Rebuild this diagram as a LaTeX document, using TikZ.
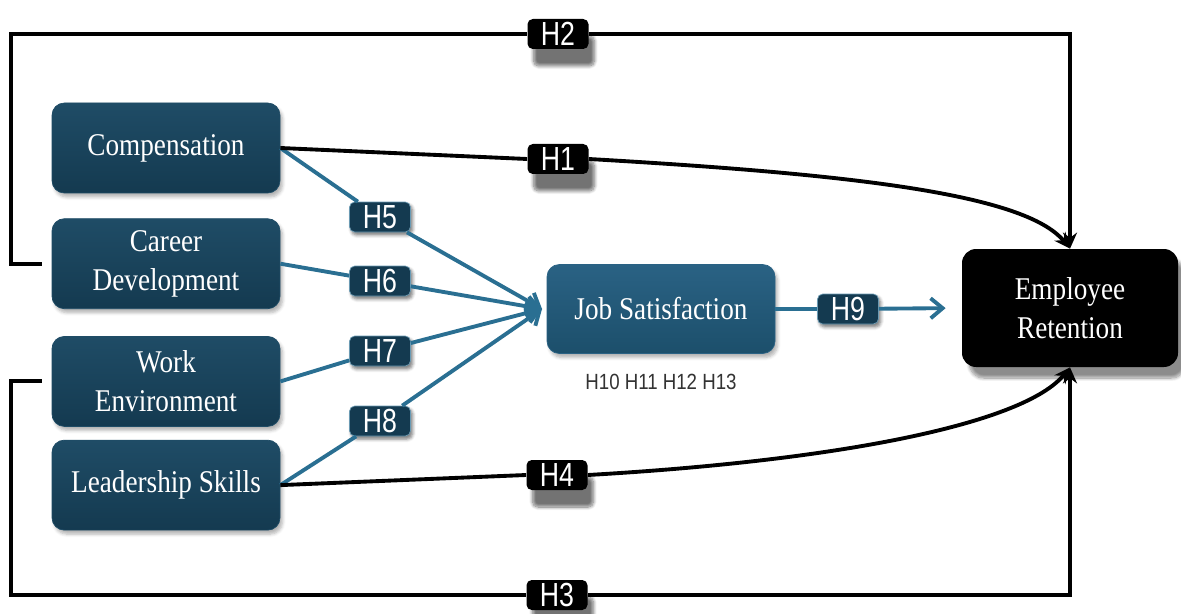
\documentclass[tikz,border=0pt]{standalone}
\usepackage{fontspec}
\setmainfont{Liberation Serif}
\newfontfamily\boxfont[FakeStretch=0.86]{Liberation Serif}
\newfontfamily\hfont[FakeStretch=0.85]{Liberation Sans}
\newfontfamily\hnarrow[FakeStretch=0.8]{Liberation Sans}
\usetikzlibrary{positioning}
\usetikzlibrary{shadows.blur}
\usetikzlibrary{arrows.meta}

\definecolor{boxblue}{HTML}{143A50}
\definecolor{boxtop}{HTML}{1F4C66}
\definecolor{jsblue}{HTML}{1C4F6B}
\definecolor{jstop}{HTML}{2A6284}
\definecolor{lineblue}{HTML}{2A6F92}

\begin{document}
\begin{tikzpicture}[
  factor/.style={top color=boxtop, bottom color=boxblue, draw=boxtop, rounded corners=7pt,
    minimum width=4.56cm, minimum height=1.8cm, text=white, align=center,
    font=\boxfont\fontsize{18}{22}\selectfont,
    blur shadow={shadow xshift=0.05cm, shadow yshift=-0.08cm, shadow blur steps=5, shadow opacity=30}},
  mediator/.style={factor, top color=jstop, bottom color=jsblue, draw=jstop, minimum height=1.78cm},
  outcome/.style={fill=black, rounded corners=8pt, minimum width=4.32cm, minimum height=2.36cm,
    text=white, align=center, font=\boxfont\fontsize{18}{22}\selectfont,
    blur shadow={shadow xshift=0.15cm, shadow yshift=-0.22cm, shadow blur steps=10, shadow opacity=45}},
  hyp/.style={fill=black, rounded corners=3pt, minimum width=1.22cm, minimum height=0.6cm, inner sep=0pt,
    text=white, font=\hnarrow\fontsize{19}{19}\selectfont,
    blur shadow={shadow xshift=0.12cm, shadow yshift=-0.34cm, shadow blur steps=10, shadow opacity=55}},
  mhyp/.style={hyp, fill=boxblue, draw=lineblue!70!white, line width=0.4pt,
    blur shadow={shadow xshift=0.04cm, shadow yshift=-0.06cm, shadow blur steps=4, shadow opacity=30}},
  link/.style={black, line width=2.2pt},
  blink/.style={lineblue, line width=2.2pt},
  >={Stealth[length=3.2mm,width=2.8mm]}
]
\useasboundingbox (0,0) rectangle (23.62,12.26);

% independent variables
\node (comp) [factor] at (3.32,9.30) {Compensation};
\node (career) [factor, below=0.5cm of comp] {Career\\Development};
\node (work) [factor, below=0.54cm of career] {Work\\Environment};
\node (lead) [factor, below=0.26cm of work] {Leadership Skills};

% mediator and dependent variable
\node (js) [mediator] at (13.22,6.08) {Job Satisfaction};
\node (med) [below=0.28cm of js, text=black!80, font=\hfont\fontsize{12.5}{13}\selectfont] {H10 H11 H12 H13};
\node (er) [outcome] at (21.40,6.10) {Employee\\Retention};

% hypotheses
\node (h1) [hyp] at (11.16,9.08) {H1};
\node (h2) [hyp] at (11.16,11.58) {H2};
\node (h3) [hyp] at (11.14,0.36) {H3};
\node (h4) [hyp] at (11.14,2.76) {H4};
\node (h5) [mhyp] at (7.60,7.92) {H5};
\node (h6) [mhyp] at (7.60,6.64) {H6};
\node (h7) [mhyp] at (7.60,5.24) {H7};
\node (h8) [mhyp] at (7.60,3.84) {H8};
\node (h9) [mhyp] at (16.96,6.08) {H9};

\coordinate (conv) at (10.84,6.08);
\coordinate (rail) at (0.22,0);
\coordinate [left=0.2cm of career] (cdstub);
\coordinate [left=0.2cm of work] (westub);

% paths to job satisfaction
\draw [blink] (comp.east) -- (h5);
\draw [blink, -{Straight Barb[length=2.4mm,width=4mm]}] (h5) -- (conv);
\draw [blink] (career.east) -- (h6);
\draw [blink, -{Straight Barb[length=2.4mm,width=4mm]}] (h6) -- (conv);
\draw [blink] (work.east) -- (h7);
\draw [blink, -{Straight Barb[length=2.4mm,width=4mm]}] (h7) -- (conv);
\draw [blink] (lead.east) -- (h8);
\draw [blink, -{Straight Barb[length=2.4mm,width=4mm]}] (h8) -- (conv);
\draw [blink] (js.east) -- (h9);
\draw [blink, -{Straight Barb[length=2.4mm,width=4mm]}, shorten >=0.32cm] (h9) -- (er.west);

% direct paths to retention
\draw [link] (comp.east) -- (h1.west);
\draw [link, ->] (h1.east) .. controls +(5.2,-0.3) and +(-0.9,1.1) .. (er.north);
\draw [link] (cdstub) -- (rail |- cdstub) |- (h2.west);
\draw [link, ->] (h2.east) -| (er.north);
\draw [link] (westub) -- (rail |- westub) |- (h3.west);
\draw [link, ->] (h3.east) -| (er.south);
\draw [link] (lead.east) -- (h4.west);
\draw [link, ->] (h4.east) .. controls +(5.2,0.3) and +(-0.9,-1.1) .. (er.south);
\end{tikzpicture}
\end{document}
